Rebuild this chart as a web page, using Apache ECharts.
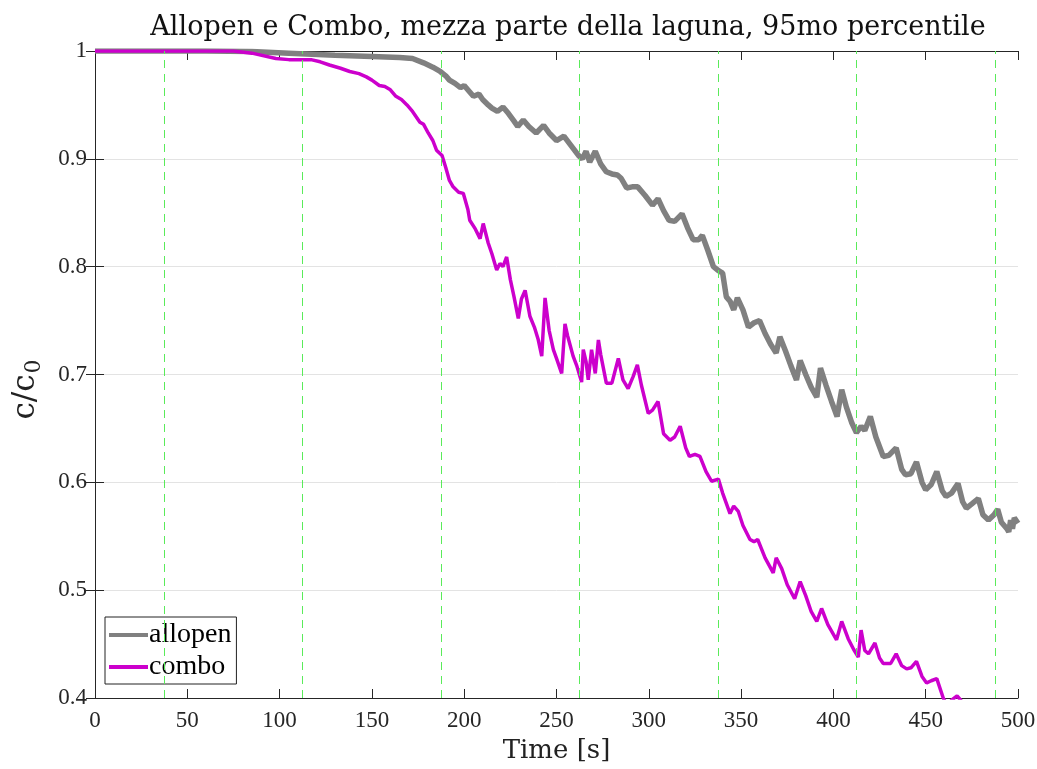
<!DOCTYPE html>
<html>
<head>
<meta charset="utf-8">
<script src="https://cdn.jsdelivr.net/npm/echarts@6/dist/echarts.min.js"></script>
<style>
html,body{margin:0;padding:0;background:#fff;}
#main{width:1037px;height:769px;}
</style>
</head>
<body>
<div id="main"></div>
<script>
var xTicks = [0, 50, 100, 150, 200, 250, 300, 350, 400, 450, 500];
var yTicks = [0.4, 0.5, 0.6, 0.7, 0.8, 0.9, 1];
var markTimes = [37.5, 112.5, 187.5, 262.5, 337.5, 412.5, 487.5];

var allopenT = [0, 60, 85, 105, 130, 150, 165, 172, 178, 183, 187, 190, 192, 195, 198, 200, 203, 205, 208, 210,
  213, 215, 218, 221, 224, 227, 229, 232, 235, 239, 243, 246, 250, 254, 258, 262, 264, 266, 268, 271,
  274, 277, 280, 283, 285, 288, 291, 294, 298, 302, 305, 308, 311, 314, 318, 321, 324, 327, 329, 332,
  335, 338, 340, 342, 344, 346, 348, 351, 354, 357, 360, 363, 366, 369, 371, 374, 377, 380, 382, 385,
  388, 391, 393, 396, 399, 402, 404.5, 407, 410, 412.5, 415, 417, 420, 423, 427, 430, 434, 437, 439, 442,
  445, 448, 450, 453, 456, 459, 461, 464, 467.5, 470, 472, 475, 478.5, 481, 484, 487, 489, 491, 494, 495,
  496, 497, 498, 500];
var allopenV = [1.0, 1.0, 0.9995, 0.998, 0.996, 0.995, 0.994, 0.993, 0.989, 0.985, 0.981, 0.977, 0.973, 0.970, 0.966, 0.968, 0.962, 0.958, 0.960, 0.955,
  0.950, 0.947, 0.944, 0.948, 0.942, 0.935, 0.930, 0.936, 0.930, 0.924, 0.931, 0.924, 0.917, 0.921, 0.912, 0.903, 0.900, 0.907, 0.897, 0.907,
  0.895, 0.888, 0.886, 0.885, 0.882, 0.873, 0.874, 0.874, 0.866, 0.857, 0.863, 0.852, 0.843, 0.842, 0.849, 0.836, 0.825, 0.825, 0.829, 0.815,
  0.800, 0.796, 0.794, 0.772, 0.768, 0.760, 0.771, 0.760, 0.744, 0.748, 0.750, 0.738, 0.728, 0.720, 0.735, 0.722, 0.708, 0.695, 0.713, 0.700,
  0.688, 0.679, 0.706, 0.690, 0.675, 0.661, 0.686, 0.670, 0.655, 0.646, 0.652, 0.648, 0.661, 0.642, 0.624, 0.625, 0.632, 0.612, 0.607, 0.608,
  0.619, 0.600, 0.593, 0.598, 0.610, 0.592, 0.587, 0.590, 0.599, 0.582, 0.576, 0.580, 0.585, 0.570, 0.565, 0.570, 0.575, 0.563, 0.557, 0.554,
  0.565, 0.557, 0.567, 0.562];

var comboT = [0, 75, 85, 98, 105, 113, 117, 122, 127, 133, 138, 143, 147, 150, 154, 157, 160, 163, 166, 169,
  172, 176, 178, 180.5, 183, 185, 188, 190, 192, 194, 197, 199.5, 202, 203, 206, 208.6, 210.3, 213, 215, 217.6,
  219.4, 221, 223, 225, 227, 229.3, 231, 233, 235.6, 238, 240, 242, 243.8, 246, 248.3, 250, 252.8, 254.6, 256, 259,
  261, 263.6, 264.5, 266, 267.2, 269, 271, 272.7, 274, 277, 280, 283.5, 286, 288.8, 291.5, 293.8, 296, 299.7, 302, 305,
  306, 308, 311.5, 314, 317, 320, 322, 325, 327.7, 331, 334, 337.7, 340, 344, 346, 348.5, 351, 354.8, 357, 359,
  363, 367.4, 369, 372, 375, 379, 382, 385, 388, 391, 393.6, 397, 401.7, 404.5, 408, 411, 413.5, 415, 417, 419,
  422.5, 425, 427, 431, 434, 437, 439.7, 442, 445, 448, 450.5, 453, 456, 459.5, 462, 464, 467, 469, 472, 480, 500];
var comboV = [1.0, 1.0, 0.998, 0.993, 0.992, 0.992, 0.992, 0.990, 0.987, 0.984, 0.981, 0.979, 0.976, 0.973, 0.968, 0.967, 0.964, 0.958, 0.955, 0.950,
  0.944, 0.934, 0.932, 0.924, 0.917, 0.908, 0.903, 0.892, 0.880, 0.874, 0.869, 0.868, 0.853, 0.843, 0.835, 0.826, 0.840, 0.822, 0.812, 0.797,
  0.803, 0.800, 0.809, 0.788, 0.772, 0.752, 0.770, 0.778, 0.754, 0.744, 0.733, 0.717, 0.771, 0.741, 0.723, 0.715, 0.701, 0.747, 0.736, 0.717,
  0.708, 0.693, 0.723, 0.712, 0.695, 0.723, 0.701, 0.732, 0.718, 0.692, 0.692, 0.715, 0.695, 0.687, 0.698, 0.709, 0.690, 0.664, 0.667, 0.675,
  0.676, 0.645, 0.639, 0.642, 0.652, 0.632, 0.624, 0.626, 0.624, 0.610, 0.601, 0.603, 0.590, 0.571, 0.578, 0.573, 0.560, 0.547, 0.545, 0.547,
  0.530, 0.516, 0.530, 0.520, 0.505, 0.492, 0.508, 0.495, 0.480, 0.471, 0.483, 0.468, 0.454, 0.471, 0.455, 0.445, 0.438, 0.463, 0.444, 0.441,
  0.451, 0.437, 0.432, 0.432, 0.441, 0.430, 0.427, 0.428, 0.434, 0.420, 0.414, 0.416, 0.418, 0.400, 0.392, 0.398, 0.402, 0.398, 0.385, 0.370, 0.345];

function pairs(t, v) {
  var out = [];
  for (var i = 0; i < t.length; i++) out.push([t[i], v[i]]);
  return out;
}

var serif = 'Liberation Serif';
var cm = 'DejaVu Serif';
var chart = echarts.init(document.getElementById('main'));
chart.setOption({
  animation: false,
  backgroundColor: '#fff',
  title: {
    text: 'Allopen e Combo, mezza parte della laguna, 95mo percentile',
    left: 563,
    textAlign: 'center',
    top: 9,
    textStyle: {fontFamily: cm, fontSize: 27, fontWeight: 'normal', color: '#111'}
  },
  grid: {left: 95, right: 19, top: 51, bottom: 71, outerBoundsMode: 'none', containLabel: false},
  legend: {
    left: 105, top: 617,
    orient: 'vertical',
    data: [{name: 'allopen', icon: 'rect'}, {name: 'combo', icon: 'rect'}],
    itemWidth: 39, itemHeight: 4, itemGap: 4,
    backgroundColor: '#fff', borderColor: '#222', borderWidth: 1, borderRadius: 0,
    padding: [4, 5, 3, 4],
    textStyle: {fontFamily: serif, fontSize: 28, color: '#000', padding: [0, 0, 0, -4]}
  },
  xAxis: [{
    type: 'value', min: 0, max: 500, interval: 50,
    name: 'Time [s]', nameLocation: 'middle', nameGap: 40,
    nameTextStyle: {fontFamily: cm, fontSize: 26, color: '#222'},
    axisLine: {show: true, lineStyle: {color: '#262626', width: 1}},
    axisTick: {show: true, inside: true, length: 9, lineStyle: {color: '#262626'}},
    axisLabel: {fontFamily: serif, fontSize: 23, color: '#262626', margin: 11,
      formatter: function (v) { return xTicks.indexOf(v) >= 0 ? String(v) : ''; }},
    splitLine: {show: false}
  }, {
    type: 'value', min: 0, max: 500, interval: 50, position: 'top',
    axisLine: {show: true, lineStyle: {color: '#262626', width: 1}},
    axisTick: {show: true, inside: true, length: 9, lineStyle: {color: '#262626'}},
    axisLabel: {show: false}, splitLine: {show: false}
  }],
  yAxis: [{
    type: 'value', min: 0.4, max: 1, interval: 0.1,
    name: '{a|c/c}{b|0}', nameLocation: 'middle', nameGap: 50, nameRotate: 90,
    nameTextStyle: {
      padding: [0, 0, 0, -30],
      rich: {
        a: {fontFamily: cm, fontSize: 31, color: '#222'},
        b: {fontFamily: cm, fontSize: 22, color: '#222', padding: [16, 0, 0, 1]}
      }
    },
    axisLine: {show: true, lineStyle: {color: '#262626', width: 1}},
    axisTick: {show: true, inside: true, length: 9, lineStyle: {color: '#262626'}},
    axisLabel: {fontFamily: serif, fontSize: 23, color: '#262626', margin: 8,
      formatter: function (v) { return v === 1 ? '1' : v.toFixed(1); }},
    splitLine: {show: true, lineStyle: {color: '#e3e3e3', width: 1}}
  }, {
    type: 'value', min: 0.4, max: 1, interval: 0.1, position: 'right',
    axisLine: {show: true, lineStyle: {color: '#262626', width: 1}},
    axisTick: {show: true, inside: true, length: 9, lineStyle: {color: '#262626'}},
    axisLabel: {show: false}, splitLine: {show: false}
  }],
  series: [{
    name: 'marks', type: 'line', data: [], z: 1, silent: true,
    markLine: {
      silent: true, symbol: 'none', label: {show: false},
      lineStyle: {color: '#5aeb5a', width: 1, type: [8, 6]},
      data: markTimes.map(function (t) { return {xAxis: t}; })
    }
  }, {
    name: 'allopen', type: 'line', z: 3,
    data: pairs(allopenT, allopenV),
    showSymbol: false, smooth: false,
    lineStyle: {color: '#808080', width: 5.5},
    itemStyle: {color: '#808080'}
  }, {
    name: 'combo', type: 'line', z: 4,
    data: pairs(comboT, comboV),
    showSymbol: false, smooth: false,
    lineStyle: {color: '#cc00cc', width: 3.5},
    itemStyle: {color: '#cc00cc'}
  }]
});
</script>
</body>
</html>
